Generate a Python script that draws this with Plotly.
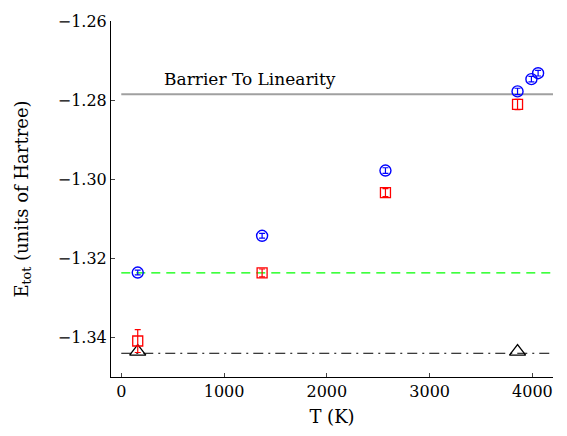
import plotly.graph_objects as go

# Data
T_blue = [160, 1370, 2570, 3855, 3990, 4055]
E_blue = [-1.3236, -1.3143, -1.2978, -1.2778, -1.2747, -1.2732]
err_blue = [0.0006, 0.0006, 0.0007, 0.0008, 0.0007, 0.0007]

T_red = [160, 1370, 2570, 3855]
E_red = [-1.3409, -1.3237, -1.3034, -1.2811]
err_red = [0.0029, 0.0010, 0.0010, 0.0013]

T_tri = [160, 3855]
E_tri = [-1.3436, -1.3436]

line_T = [0, 4200]
E_barrier = -1.2785
E_green = -1.3237
E_dashdot = -1.3440

xticks = [0, 1000, 2000, 3000, 4000]
yticks = [-1.34, -1.32, -1.30, -1.28, -1.26]
ytick_text = ["\u22121.34", "\u22121.32", "\u22121.30", "\u22121.28", "\u22121.26"]

FONT = "DejaVu Serif"

fig = go.Figure()

fig.add_trace(go.Scatter(x=line_T, y=[E_barrier, E_barrier], mode="lines",
                         line=dict(color="#a0a0a0", width=2), showlegend=False))
fig.add_trace(go.Scatter(x=line_T, y=[E_green, E_green], mode="lines",
                         line=dict(color="#00ff00", width=1.3, dash="9px,6px"), showlegend=False))
fig.add_trace(go.Scatter(x=line_T, y=[E_dashdot, E_dashdot], mode="lines",
                         line=dict(color="black", width=1, dash="10px,5px,2px,5px"), showlegend=False))

fig.add_trace(go.Scatter(x=T_tri, y=E_tri, mode="markers",
                         marker=dict(symbol="triangle-up-open", size=14, color="black",
                                     line=dict(width=1.3, color="black")), showlegend=False))

fig.add_trace(go.Scatter(x=T_red, y=E_red, mode="markers",
                         marker=dict(symbol="square-open", size=10, color="red",
                                     line=dict(width=1.3, color="red")),
                         error_y=dict(type="data", array=err_red, color="red", thickness=1.2, width=3),
                         showlegend=False))

fig.add_trace(go.Scatter(x=T_blue, y=E_blue, mode="markers",
                         marker=dict(symbol="circle-open", size=11, color="blue",
                                     line=dict(width=1.4, color="blue")),
                         error_y=dict(type="data", array=err_blue, color="blue", thickness=1.2, width=3),
                         showlegend=False))

fig.add_annotation(x=400, y=-1.2747, text="Barrier To Linearity", showarrow=False,
                   xanchor="left", yanchor="middle", font=dict(family=FONT, size=17, color="black"))

fig.add_annotation(x=-0.2, xref="paper", y=0.5, yref="paper",
                   text="E<sub>tot</sub> (units of Hartree)", showarrow=False, textangle=-90,
                   xanchor="center", yanchor="middle", font=dict(family=FONT, size=18, color="black"))

fig.update_layout(
    width=567, height=436,
    margin=dict(l=111, r=14, t=17, b=59),
    paper_bgcolor="white", plot_bgcolor="white",
    font=dict(family=FONT, size=16, color="black"),
    xaxis=dict(range=[-100, 4200], tickvals=xticks, ticks="inside", ticklen=4,
               showline=True, linecolor="black", linewidth=1, mirror=False,
               showgrid=False, zeroline=False,
               title=dict(text="T (K)", font=dict(family=FONT, size=18), standoff=10),
               tickfont=dict(family=FONT, size=16)),
    yaxis=dict(range=[-1.35, -1.26], tickvals=yticks, ticktext=ytick_text,
               ticks="inside", ticklen=4,
               showline=True, linecolor="black", linewidth=1, mirror=False,
               showgrid=False, zeroline=False,
               tickfont=dict(family=FONT, size=16)),
)

fig.write_html("out.html")
